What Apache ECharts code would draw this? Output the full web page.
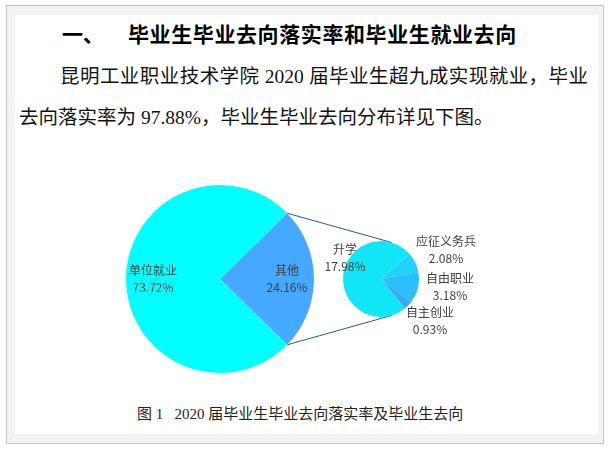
<!DOCTYPE html>
<html>
<head>
<meta charset="utf-8">
<script src="https://cdn.jsdelivr.net/npm/echarts@6/dist/echarts.min.js"></script>
<style>
  html, body { margin: 0; padding: 0; background: #fff; }
  body { width: 611px; height: 449px; position: relative; overflow: hidden; }
  .frame { position: absolute; left: 6px; top: 5px; width: 598px; height: 439px;
           box-sizing: border-box; border: 1px solid #c4c4c4; background: #f3f3f3; }
  .page { position: absolute; left: 15px; top: 15px; width: 583px; height: 419px; background: #fff; }
  .txt { position: absolute; white-space: nowrap; color: #111;
         font-family: "Liberation Serif", "Noto Sans CJK SC", serif; }
  .h1 { font-family: "Noto Sans CJK SC", sans-serif; font-weight: 700; font-size: 21px; color: #000; }
  #chart { position: absolute; left: 0; top: 0; width: 611px; height: 449px; }
</style>
</head>
<body>
<div class="frame"></div>
<div class="page"></div>
<div class="txt h1" style="left:62px; top:18px;">一、</div>
<div class="txt h1" style="left:128px; top:18px; letter-spacing:0.6px;">毕业生毕业去向落实率和毕业生就业去向</div>
<div class="txt" style="left:60px; top:60px; width:528px; font-size:19.5px; text-align:justify; text-align-last:justify;">昆明工业职业技术学院 2020 届毕业生超九成实现就业，毕业</div>
<div class="txt" style="left:19px; top:101px; font-size:19.5px;">去向落实率为 97.88%，毕业生毕业去向分布详见下图。</div>
<div class="txt" style="left:137px; top:402px; font-size:15px; color:#222;">图 1&nbsp;&nbsp;&nbsp;2020 届毕业生毕业去向落实率及毕业生去向</div>
<div id="chart"></div>
<script>
// 主饼图：毕业去向
const mainNames = ['其他', '单位就业'];
const mainValues = [24.16, 73.72];
const mainColors = ['#45a9ff', '#00ffff'];

// 子饼图：其他 的组成
const subNames = ['应征义务兵', '自由职业', '自主创业', '升学'];
const subValues = [2.08, 3.18, 0.93, 17.98];
const subColors = ['#1fd2f9', '#29bffb', '#38aaf8', '#12e6f6'];

// 布局
const mainC = [220, 279], mainR = 94;
const subC = [381, 279], subR = 38;
const mainLabelDist = 67;
const subLabelOffsets = [[65, -29], [69, 8], [49, 42], [-36, -21]];

const sum = a => a.reduce((s, v) => s + v, 0);
const otherAngle = mainValues[0] / sum(mainValues) * 360;
const mainStart = otherAngle / 2;
const smallAngle = (sum(subValues) - subValues[3]) / sum(subValues) * 360;
const subStart = smallAngle / 2 - 5;

const rad = d => d * Math.PI / 180;
const onCircle = (c, r, deg) => [c[0] + r * Math.cos(rad(deg)), c[1] - r * Math.sin(rad(deg))];

// 连接线
const p1 = onCircle(mainC, mainR, mainStart);
const p2 = onCircle(mainC, mainR, -mainStart);
const q1 = onCircle(subC, subR, 73);
const q2 = onCircle(subC, subR, -73);

const labelStyle = {
    color: '#404040',
    fontSize: 12,
    lineHeight: 17,
    fontFamily: '"Noto Sans CJK SC", sans-serif',
    formatter: '{b}\n{c}%',
    align: 'center'
};

const chart = echarts.init(document.getElementById('chart'));
chart.setOption({
    animation: false,
    series: [{
        type: 'pie',
        center: mainC,
        radius: mainR,
        startAngle: mainStart,
        clockwise: true,
        silent: true,
        label: Object.assign({position: 'inside'}, labelStyle),
        labelLine: {show: false},
        labelLayout: function (p) {
            const ang = p.dataIndex === 0 ? 0 : 180;
            const pt = onCircle(mainC, mainLabelDist, ang);
            return {x: pt[0], y: pt[1], align: 'center', verticalAlign: 'middle'};
        },
        itemStyle: {borderWidth: 0},
        data: mainNames.map((n, i) => ({name: n, value: mainValues[i], itemStyle: {color: mainColors[i]}}))
    }, {
        type: 'pie',
        center: subC,
        radius: subR,
        startAngle: subStart,
        clockwise: true,
        silent: true,
        label: Object.assign({position: 'inside'}, labelStyle),
        labelLine: {show: false},
        labelLayout: function (p) {
            const o = subLabelOffsets[p.dataIndex];
            return {x: subC[0] + o[0], y: subC[1] + o[1], align: 'center', verticalAlign: 'middle'};
        },
        itemStyle: {borderWidth: 0},
        data: subNames.map((n, i) => ({name: n, value: subValues[i], itemStyle: {color: subColors[i]}}))
    }],
    graphic: [
        {type: 'line', shape: {x1: p1[0], y1: p1[1], x2: q1[0], y2: q1[1]}, style: {stroke: '#2f5597', lineWidth: 1}, silent: true},
        {type: 'line', shape: {x1: p2[0], y1: p2[1], x2: q2[0], y2: q2[1]}, style: {stroke: '#2f5597', lineWidth: 1}, silent: true}
    ]
});
</script>
</body>
</html>
